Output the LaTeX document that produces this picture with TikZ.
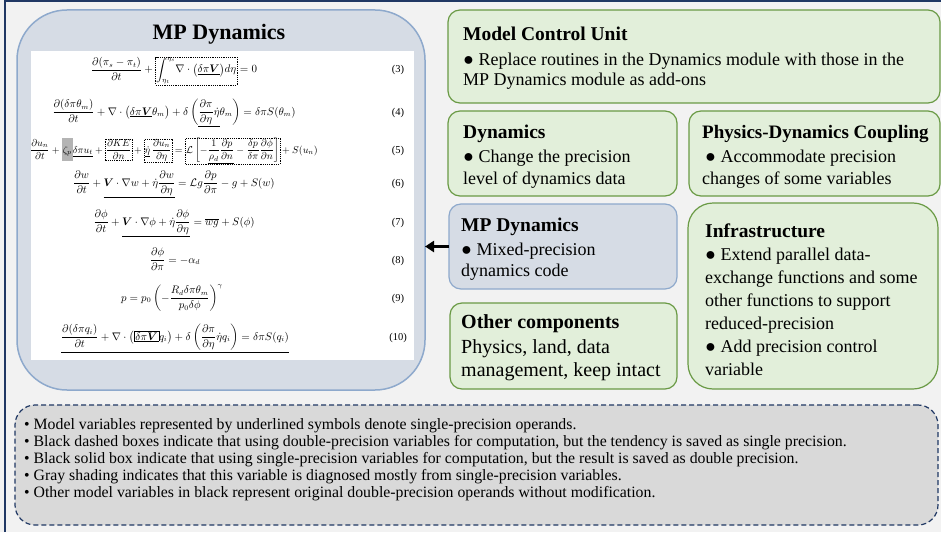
\documentclass[tikz,border=0pt]{standalone}
\usepackage{amsmath,bm}
\usepackage{fontspec}
\setmainfont{Liberation Serif}
\usetikzlibrary{arrows.meta}
\definecolor{bgc}{HTML}{F2F2F2}
\definecolor{navy}{HTML}{203864}
\definecolor{bluefill}{HTML}{D6DCE5}
\definecolor{blueline}{HTML}{8EA9CC}
\definecolor{greenfill}{HTML}{E2EFDA}
\definecolor{greenline}{HTML}{6A9A45}
\definecolor{legfill}{HTML}{D9D9D9}
\definecolor{shadegray}{HTML}{B4B4B4}
\setlength{\fboxsep}{1pt}
\setlength{\fboxrule}{0.5pt}
\newcommand{\dbx}[1]{\tikz[baseline=(dbxn.base)]\node[draw=black,dash pattern=on 1.2pt off 1pt,line width=0.4pt,inner sep=0.5pt,fill=none,rounded corners=0pt] (dbxn) {$\displaystyle #1$};}
\begin{document}
\begin{tikzpicture}[x=1pt,y=-1pt,
  box/.style={anchor=north west, inner sep=0pt, outer sep=0pt},
  gbox/.style={box, fill=greenfill, draw=greenline, line width=1.2pt, rounded corners=12pt},
  bbox/.style={box, fill=bluefill, draw=blueline, line width=1.2pt, rounded corners=12pt},
  ttl/.style={anchor=base west, inner sep=0pt, font=\fontsize{19.5}{24}\selectfont\bfseries},
  bdy/.style={anchor=base west, inner sep=0pt, align=left},
  eqn/.style={anchor=base, inner sep=0pt, font=\fontsize{10.5}{12}\selectfont},
  eqno/.style={anchor=base, inner sep=0pt, font=\fontsize{10.5}{12}\selectfont}]
\useasboundingbox (0,0) rectangle (941,532);
\fill[bgc] (0,0) rectangle (941,532);
\draw[navy, line width=2pt] (5,532) -- (5,1.5) -- (941,1.5);

% big panel
\node[box, fill=bluefill, draw=blueline, line width=1.5pt, rounded corners=50pt, minimum width=408pt, minimum height=380pt] (panel) at (17,10) {};
\node[box, fill=white, minimum width=383pt, minimum height=309pt] (white) at (31,51) {};
\node[anchor=base, inner sep=0pt, font=\fontsize{22}{26}\selectfont\bfseries] (ptitle) at (219,40) {MP Dynamics};

% equations
\node[eqn] (e3) at (174,73) {$\displaystyle \frac{\partial(\pi_s-\pi_t)}{\partial t}+\dbx{\int_{\eta_t}^{\eta_s}\!\nabla\cdot\big(\underline{\delta\pi\bm V}\big)d\eta}=0$};
\node[eqn] (e4) at (174,115) {$\displaystyle \frac{\partial(\delta\pi\theta_m)}{\partial t}+\nabla\cdot\big(\underline{\delta\pi\bm V}\theta_m\big)+\delta\left(\underline{\frac{\partial\pi}{\partial\eta}\dot\eta}\theta_m\right)=\delta\pi S(\theta_m)$};
\node[eqn, font=\fontsize{9.9}{12}\selectfont] (e5) at (174,153) {$\displaystyle \frac{\partial u_n}{\partial t}+\colorbox{shadegray}{$\displaystyle\vphantom{\frac{\partial u}{\partial t}}\zeta_p$}\underline{\delta\pi u_t}+\dbx{\frac{\partial KE}{\partial n}}+\dbx{\underline{\dot\eta}\,\frac{\partial u_n}{\partial\eta}}=\dbx{\mathcal{L}\left[-\underline{\frac{1}{\rho_d}\frac{\partial p}{\partial n}}-\frac{\delta p}{\delta\pi}\frac{\partial\phi}{\partial n}\right]}+S(u_n)$};
\node[eqn] (e6) at (174,186) {$\displaystyle \frac{\partial w}{\partial t}+\underline{\bm V\cdot\nabla w+\dot\eta\frac{\partial w}{\partial\eta}}=\mathcal{L}g\frac{\partial p}{\partial\pi}-g+S(w)$};
\node[eqn] (e7) at (174,225) {$\displaystyle \frac{\partial\phi}{\partial t}+\underline{\bm V\cdot\nabla\phi+\dot\eta\frac{\partial\phi}{\partial\eta}}=\overline{wg}+S(\phi)$};
\node[eqn] (e8) at (175,263) {$\displaystyle \frac{\partial\phi}{\partial\pi}=-\alpha_d$};
\node[eqn] (e9) at (172,301) {$\displaystyle p=p_0\left(-\frac{R_d\delta\pi\theta_m}{p_0\delta\phi}\right)^{\gamma}$};
\node[eqn] (e10) at (175,340) {$\displaystyle \underline{\frac{\partial(\delta\pi q_i)}{\partial t}+\nabla\cdot\big(\fbox{$\delta\pi\bm V$}q_i\big)+\delta\left(\frac{\partial\pi}{\partial\eta}\dot\eta q_i\right)=\delta\pi S(q_i)}$};
\node[eqno] (n3) at (398,73) {(3)};
\node[eqno] (n4) at (398,115) {(4)};
\node[eqno] (n5) at (398,153) {(5)};
\node[eqno] (n6) at (398,186) {(6)};
\node[eqno] (n7) at (398,225) {(7)};
\node[eqno] (n8) at (398,263) {(8)};
\node[eqno] (n9) at (398,301) {(9)};
\node[eqno] (n10) at (398,340) {(10)};

% right boxes (multi-line body nodes: base = last line baseline)
\node[gbox, minimum width=492pt, minimum height=93pt] (mcu) at (448,10) {};
\node[ttl] (mcut) at (463,41) {Model Control Unit};
\node[bdy, font=\fontsize{18}{20}\selectfont] (mcub) at (463,86) {● Replace routines in the Dynamics module with those in the\\MP Dynamics module as add-ons};

\node[gbox, minimum width=229pt, minimum height=85pt] (dyn) at (448,111) {};
\node[ttl] (dynt) at (463,139) {Dynamics};
\node[bdy, font=\fontsize{18}{21.6}\selectfont] (dynb) at (463,184.3) {● Change the precision\\level of dynamics data};

\node[gbox, minimum width=251pt, minimum height=85pt] (pdc) at (689,111) {};
\node[ttl, font=\fontsize{19}{24}\selectfont\bfseries] (pdct) at (702,139) {Physics-Dynamics Coupling};
\node[bdy, font=\fontsize{18}{21.6}\selectfont] (pdcb) at (702,184.3) {\hspace{3pt}● Accommodate precision\\changes of some variables};

\node[bbox, minimum width=228pt, minimum height=85pt] (mps) at (449,204) {};
\node[ttl] (mpst) at (461,231) {MP Dynamics};
\node[bdy, font=\fontsize{18}{21}\selectfont] (mpsb) at (461,276) {● Mixed-precision\\dynamics code};

\node[gbox, minimum width=227pt, minimum height=86pt] (oth) at (450,303) {};
\node[ttl, font=\fontsize{20}{24}\selectfont\bfseries] (otht) at (461,328) {Other components};
\node[bdy, font=\fontsize{20}{23}\selectfont] (othb) at (461,376) {Physics, land, data\\management, keep intact};

\node[gbox, rounded corners=25pt, minimum width=250pt, minimum height=186pt] (inf) at (688,203) {};
\node[ttl] (inft) at (705,237) {Infrastructure};
\node[bdy, font=\fontsize{18}{23}\selectfont] (infb) at (705,375) {● Extend parallel data-\\exchange functions and some\\other functions to support\\reduced-precision\\● Add precision control\\variable};

% arrow
\draw[line width=3pt, -{Triangle[length=9pt,width=11pt]}] (mps.west) -- (panel.east |- mps.west);

% legend
\node[box, fill=legfill, draw=navy, line width=1.2pt, dash pattern=on 5pt off 3pt, rounded corners=20pt, minimum width=923pt, minimum height=120pt] (leg) at (15,405) {};
\node[bdy, font=\fontsize{15.8}{16.8}\selectfont] (legt) at (24,497) {• Model variables represented by underlined symbols denote single-precision operands.\\• Black dashed boxes indicate that using double-precision variables for computation, but the tendency is saved as single precision.\\• Black solid box indicate that using single-precision variables for computation, but the result is saved as double precision.\\• Gray shading indicates that this variable is diagnosed mostly from single-precision variables.\\• Other model variables in black represent original double-precision operands without modification.};
\end{tikzpicture}
\end{document}
